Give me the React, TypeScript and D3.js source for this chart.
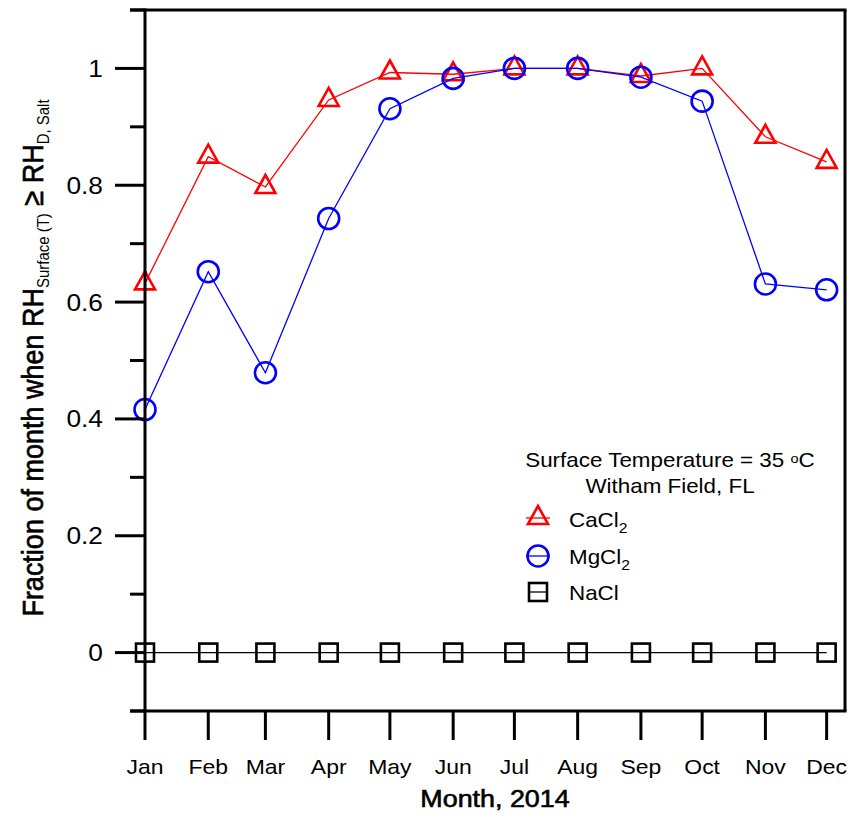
import React from "react";
import * as d3 from "d3";

const months = ["Jan", "Feb", "Mar", "Apr", "May", "Jun", "Jul", "Aug", "Sep", "Oct", "Nov", "Dec"];
const caCl2 = [0.632, 0.849, 0.797, 0.946, 0.993, 0.99, 1.0, 1.0, 0.987, 1.0, 0.883, 0.84];
const mgCl2 = [0.416, 0.652, 0.479, 0.743, 0.931, 0.983, 1.0, 1.0, 0.985, 0.944, 0.631, 0.621];
const naCl = [0, 0, 0, 0, 0, 0, 0, 0, 0, 0, 0, 0];
const yMajorTicks = [0, 0.2, 0.4, 0.6, 0.8, 1];
const yTickLabels = ["0", "0.2", "0.4", "0.6", "0.8", "1"];
const yMinorTicks = [-0.1, 0.1, 0.3, 0.5, 0.7, 0.9, 1.1];

const W = 850;
const H = 822;
const FONT = "'Liberation Sans', Arial, Helvetica, sans-serif";
const SX = 1.12;

const monthDates = months.map((_, i) => new Date(2014, i, 1));

export default function App() {
  const x = d3.scaleTime().domain([new Date(2014, 0, 1), new Date(2014, 11, 10)]).range([145, 845]);
  const y = d3.scaleLinear().domain([-0.1, 1.1]).range([711, 10]);
  const left = 145, right = 845, top = y(1.1), bottom = y(-0.1);

  const line = d3
    .line<number>()
    .x((_, i) => x(monthDates[i]))
    .y((d) => y(d));

  const tri = (cx: number, cy: number) =>
    `M${cx},${cy - 12}L${cx + 10},${cy + 6}L${cx - 10},${cy + 6}Z`;

  const T = (
    px: number,
    py: number,
    content: React.ReactNode,
    opts: { size: number; anchor?: string; heavy?: boolean; rotate?: boolean; fill?: string }
  ) => (
    <text
      transform={`translate(${px},${py}) scale(${SX},1)${opts.rotate ? " rotate(-90)" : ""}`}
      fontFamily={FONT}
      fontSize={opts.size}
      textAnchor={opts.anchor || "start"}
      fill={opts.fill || "#000"}
      stroke={opts.heavy ? "#000" : "none"}
      strokeWidth={opts.heavy ? 0.6 : 0}
    >
      {content}
    </text>
  );

  const legX = 538;
  const legTextX = 569;
  const legY = [518, 556, 592];

  return (
    <svg
      width={W}
      height={H}
      viewBox={`0 0 ${W} ${H}`}
      style={{ position: "absolute", left: 0, top: 0, background: "#fff" }}
    >
      <rect x={0} y={0} width={W} height={H} fill="#fff" />

      {/* series: NaCl */}
      <path d={line(naCl) || ""} fill="none" stroke="#000" strokeWidth={1.3} />
      {naCl.map((v, i) => (
        <rect
          key={"n" + i}
          x={x(monthDates[i]) - 9}
          y={y(v) - 9}
          width={18}
          height={18}
          fill="none"
          stroke="#000"
          strokeWidth={2.6}
        />
      ))}

      {/* series: CaCl2 */}
      <path d={line(caCl2) || ""} fill="none" stroke="#ff0000" strokeWidth={1.3} />
      {caCl2.map((v, i) => (
        <path key={"c" + i} d={tri(x(monthDates[i]), y(v))} fill="none" stroke="#ff0000" strokeWidth={2.6} />
      ))}

      {/* series: MgCl2 */}
      <path d={line(mgCl2) || ""} fill="none" stroke="#0000ff" strokeWidth={1.3} />
      {mgCl2.map((v, i) => (
        <circle key={"m" + i} cx={x(monthDates[i])} cy={y(v)} r={10.5} fill="none" stroke="#0000ff" strokeWidth={2.6} />
      ))}

      {/* frame */}
      <g stroke="#000" strokeWidth={3} fill="none">
        <line x1={130} y1={top} x2={right + 1.5} y2={top} />
        <line x1={130} y1={bottom} x2={right + 1.5} y2={bottom} />
        <line x1={right} y1={top} x2={right} y2={bottom} />
        <line x1={left} y1={top - 1.5} x2={left} y2={bottom} />
      </g>

      {/* y ticks */}
      <g stroke="#000" strokeWidth={3}>
        {yMajorTicks.map((t) => (
          <line key={"ym" + t} x1={115} x2={left} y1={y(t)} y2={y(t)} />
        ))}
        {yMinorTicks.map((t) => (
          <line key={"yn" + t} x1={130} x2={left} y1={y(t)} y2={y(t)} />
        ))}
      </g>
      {yMajorTicks.map((t, i) => (
        <g key={"yl" + t}>{T(103, y(t) + 8.5, yTickLabels[i], { size: 23.5, anchor: "end" })}</g>
      ))}

      {/* x ticks */}
      <g stroke="#000" strokeWidth={3}>
        {monthDates.map((d, i) => (
          <line key={"xt" + i} x1={x(d)} x2={x(d)} y1={bottom} y2={740} />
        ))}
      </g>
      {monthDates.map((d, i) => (
        <g key={"xl" + i}>{T(x(d), 774, months[i], { size: 20.5, anchor: "middle" })}</g>
      ))}

      {/* axis titles */}
      {T((left + right) / 2, 807, "Month, 2014", { size: 24, anchor: "middle", heavy: true })}
      {T(43, 358, (
        <>
          <tspan>Fraction of month when RH</tspan>
          <tspan fontSize={15} strokeWidth={0} dy={5}>Surface (T)</tspan>
          <tspan dy={-5}> ≥ RH</tspan>
          <tspan fontSize={15} strokeWidth={0} dy={5}>D, Salt</tspan>
        </>
      ), { size: 27, anchor: "middle", heavy: true, rotate: true })}

      {/* legend */}
      {T(670, 467, (
        <>
          <tspan>Surface Temperature = 35 </tspan>
          <tspan fontSize={13} dy={-4}>o</tspan>
          <tspan dy={4}>C</tspan>
        </>
      ), { size: 20, anchor: "middle" })}
      {T(670, 493, "Witham Field, FL", { size: 20, anchor: "middle" })}

      <line x1={legX - 12} x2={legX + 12} y1={legY[0]} y2={legY[0]} stroke="#ff0000" strokeWidth={1.3} />
      <path d={tri(legX, legY[0])} fill="none" stroke="#ff0000" strokeWidth={2.6} />
      {T(legTextX, legY[0] + 9, (
        <>
          <tspan>CaCl</tspan>
          <tspan fontSize={14} dy={6}>2</tspan>
        </>
      ), { size: 20 })}

      <line x1={legX - 12} x2={legX + 12} y1={legY[1]} y2={legY[1]} stroke="#0000ff" strokeWidth={1.3} />
      <circle cx={legX} cy={legY[1]} r={10.5} fill="none" stroke="#0000ff" strokeWidth={2.6} />
      {T(legTextX, legY[1] + 8, (
        <>
          <tspan>MgCl</tspan>
          <tspan fontSize={14} dy={6}>2</tspan>
        </>
      ), { size: 20 })}

      <line x1={legX - 10} x2={legX + 10} y1={legY[2]} y2={legY[2]} stroke="#000" strokeWidth={1.3} />
      <rect x={legX - 9} y={legY[2] - 9} width={18} height={18} fill="none" stroke="#000" strokeWidth={2.6} />
      {T(legTextX, legY[2] + 8, "NaCl", { size: 20 })}
    </svg>
  );
}
